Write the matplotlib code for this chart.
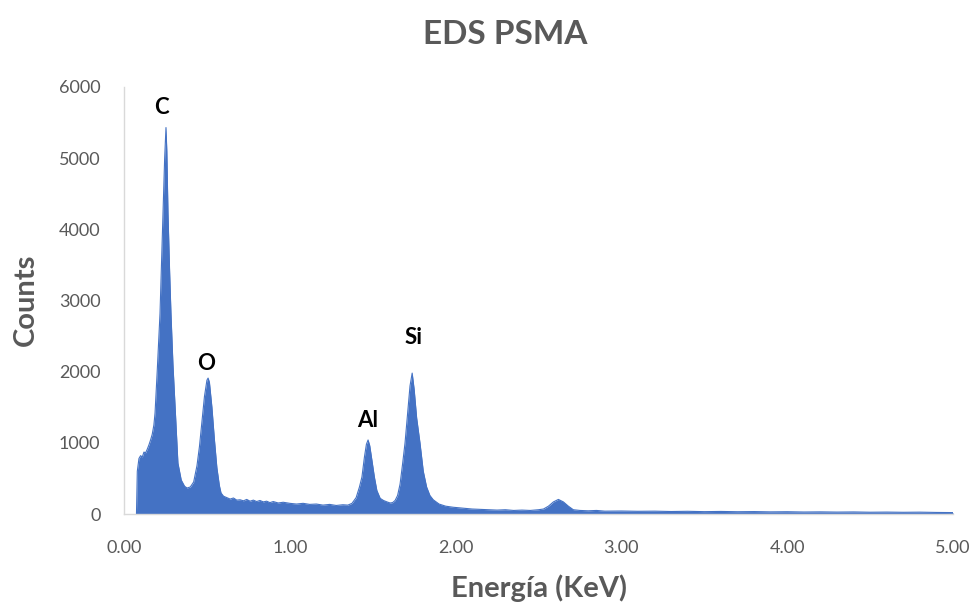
import matplotlib.pyplot as plt

# EDS spectrum (energy in keV, counts)
energy = [0.075, 0.080, 0.090, 0.100, 0.110, 0.120, 0.130, 0.140, 0.150, 0.160,
          0.170, 0.180, 0.187, 0.200, 0.217, 0.235, 0.245, 0.253, 0.258, 0.265,
          0.275, 0.283, 0.295, 0.310, 0.325, 0.345, 0.365, 0.380, 0.400, 0.420,
          0.440, 0.455, 0.470, 0.485, 0.500, 0.507, 0.515, 0.530, 0.545, 0.560,
          0.575, 0.585, 0.600, 0.620, 0.640, 0.660, 0.680, 0.700, 0.720, 0.740,
          0.760, 0.780, 0.800, 0.820, 0.840, 0.860, 0.880, 0.900, 0.930, 0.960,
          1.000, 1.040, 1.080, 1.120, 1.160, 1.200, 1.240, 1.280, 1.320, 1.350,
          1.375, 1.400, 1.420, 1.435, 1.450, 1.462, 1.472, 1.482, 1.495, 1.510,
          1.525, 1.545, 1.565, 1.586, 1.605, 1.620, 1.635, 1.650, 1.665, 1.680,
          1.695, 1.710, 1.725, 1.738, 1.750, 1.765, 1.785, 1.805, 1.825, 1.845,
          1.865, 1.900, 1.940, 1.985, 2.050, 2.100, 2.150, 2.200, 2.250, 2.300,
          2.350, 2.400, 2.450, 2.500, 2.530, 2.560, 2.590, 2.620, 2.650, 2.680,
          2.710, 2.750, 2.800, 2.850, 2.900, 3.000, 3.100, 3.200, 3.300, 3.400,
          3.500, 3.600, 3.700, 3.800, 3.900, 4.000, 4.100, 4.200, 4.300, 4.400,
          4.500, 4.600, 4.700, 4.800, 4.900, 5.000]
counts = [0, 600, 780, 820, 800, 870, 860, 910, 970, 1040,
          1120, 1250, 1420, 2000, 2820, 4230, 5000, 5430, 5100, 4230,
          3400, 2820, 2100, 1420, 716, 477, 390, 365, 380, 450,
          680, 950, 1300, 1650, 1880, 1910, 1850, 1500, 1050, 650,
          400, 295, 250, 230, 210, 225, 195, 200, 185, 205,
          180, 195, 175, 190, 170, 180, 160, 175, 155, 165,
          150, 140, 150, 135, 140, 125, 135, 120, 130, 125,
          150, 230, 380, 520, 800, 980, 1040, 960, 760, 520,
          330, 220, 190, 170, 155, 160, 190, 260, 420, 700,
          1000, 1400, 1800, 1980, 1750, 1350, 1000, 600, 380, 260,
          200, 140, 110, 95, 80, 70, 65, 60, 55, 60,
          50, 55, 50, 60, 70, 110, 170, 205, 170, 110,
          60, 50, 45, 50, 40, 42, 38, 40, 35, 38,
          33, 36, 32, 34, 30, 32, 28, 30, 27, 29,
          25, 27, 24, 26, 22, 20]

x_ticks = [0, 1, 2, 3, 4, 5]
y_ticks = [0, 1000, 2000, 3000, 4000, 5000, 6000]

peak_names = ['C', 'O', 'Al', 'Si']
peak_x = [0.223, 0.495, 1.472, 1.749]
peak_y = [5716, 2120, 1320, 2486]

grey = '#595959'
blue = '#4472C4'

plt.rcParams['font.family'] = ['Lato', 'DejaVu Sans']

fig = plt.figure(figsize=(9.79, 6.07), dpi=100, facecolor='w')
ax = fig.add_axes([0.1267, 0.1532, 0.8467, 0.7035])

ax.fill_between(energy, counts, 0, color=blue, linewidth=0)
ax.plot(energy, counts, color=blue, linewidth=0.8)

ax.set_xlim(0, 5)
ax.set_ylim(0, 6000)
ax.set_xticks(x_ticks)
ax.set_xticklabels(['%.2f' % v for v in x_ticks])
ax.set_yticks(y_ticks)
ax.tick_params(axis='both', length=0, labelsize=13, labelcolor=grey)
ax.tick_params(axis='x', pad=19)
ax.tick_params(axis='y', pad=17)

for s in ['top', 'right']:
    ax.spines[s].set_visible(False)
for s in ['left', 'bottom']:
    ax.spines[s].set_color('#D9D9D9')
    ax.spines[s].set_linewidth(1)

for name, px, py in zip(peak_names, peak_x, peak_y):
    ax.text(px, py, name, ha='center', va='center', fontsize=16,
            fontweight='bold', color='black')

fig.text(0.551, 0.016, 'Energía (KeV)', ha='center', va='baseline',
         fontsize=21, fontweight='bold', color=grey)
fig.text(0.0266, 0.506, 'Counts', ha='center', va='center', rotation=90,
         fontsize=21, fontweight='bold', color=grey)
fig.text(0.516, 0.928, 'EDS PSMA', ha='center', va='baseline',
         fontsize=24, fontweight='bold', color=grey)

plt.savefig('out.png', dpi=100)
